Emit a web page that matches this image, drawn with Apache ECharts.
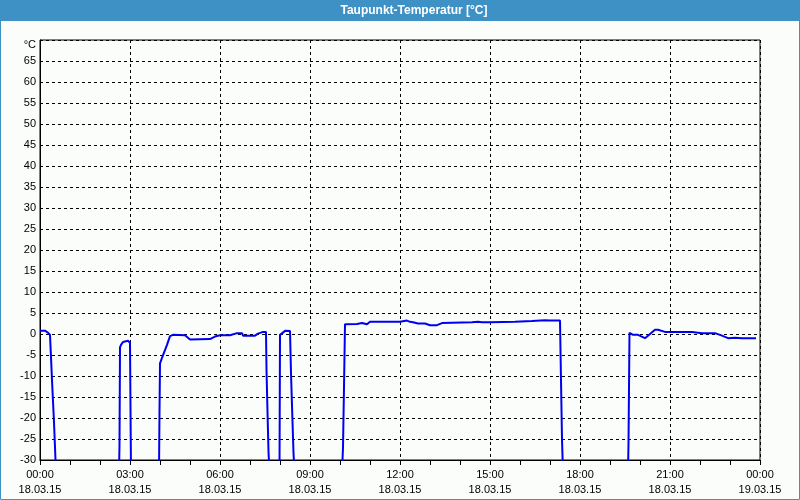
<!DOCTYPE html>
<html>
<head>
<meta charset="utf-8">
<script src="https://cdn.jsdelivr.net/npm/echarts@6/dist/echarts.min.js"></script>
<style>
html,body{margin:0;padding:0;background:#fbfdfb;}
#chart{width:800px;height:500px;}
</style>
</head>
<body>
<div id="chart"></div>
<script>
// Time in minutes since 18.03.15 00:00; null = gap in measurement
var minutes = [
  0, 10, 16, 20, 22, 24, 26, 28, 30, 32, 33,
  158, 159, 160, 162, 166, 170, 176, 180, 182, 183,
  238, 239, 240, 244, 254, 260, 266, 290, 300, 340, 350, 360, 380, 394, 404, 406, 430, 436, 446, 452, 453, 455, 457, 459, 460,
  479, 480, 484, 491, 500, 502, 504.5, 507, 509, 510,
  604, 606, 608, 610, 634, 636, 644, 646, 654, 660, 720, 734, 740, 746, 756, 770, 780, 794, 804, 864, 876, 884, 900, 904, 950, 954, 984, 986, 1010, 1020, 1040, 1042, 1044, 1046, 1047,
  1176, 1177, 1179, 1180, 1186, 1196, 1210, 1230, 1236, 1250, 1304, 1324, 1350, 1364, 1376, 1390, 1404, 1432
];
var dewPoint = [
  0.8, 0.8, 0.3, -0.2, -5.5, -11, -16, -21, -27, -33, null,
  -33, -26.5, -3.2, -2.6, -1.9, -1.6, -1.6, -2.1, -33, null,
  -33, -18.6, -7, -5.7, -2.6, -0.5, -0.2, -0.3, -1.3, -1.2, -0.6, -0.3, -0.3, 0.2, 0.2, -0.4, -0.4, 0.1, 0.5, 0.5, -8.5, -18.5, -28, -33, null,
  -33, -0.2, 0.2, 0.8, 0.7, -9.3, -19, -28.3, -33, null,
  -33, -27, -12.6, 2.3, 2.4, 2.6, 2.6, 2.3, 2.3, 2.9, 2.9, 3.2, 2.9, 2.8, 2.5, 2.5, 2.1, 2.1, 2.6, 2.8, 2.9, 2.8, 2.8, 2.9, 2.9, 3.1, 3.1, 3.3, 3.3, 3.2, 3.2, -11, -25, -33, null,
  -33, -26, 0.3, 0.2, -0.2, -0.2, -1.0, 1.0, 1.0, 0.5, 0.5, 0.2, 0.2, -0.4, -1.0, -0.9, -1.0, -1.0
];
var yTicks = [-30, -25, -20, -15, -10, -5, 0, 5, 10, 15, 20, 25, 30, 35, 40, 45, 50, 55, 60, 65, 70];
var xTickLabels = ['00:00', '03:00', '06:00', '09:00', '12:00', '15:00', '18:00', '21:00', '00:00'];
var dateLabels = ['18.03.15', '18.03.15', '18.03.15', '18.03.15', '18.03.15', '18.03.15', '18.03.15', '18.03.15', '19.03.15'];
var titleText = 'Taupunkt-Temperatur [°C]';

var seriesData = minutes.map(function (m, i) {
  return [m, dewPoint[i] === null ? '-' : dewPoint[i]];
});

var font = '"Liberation Sans", Arial, sans-serif';
var chart = echarts.init(document.getElementById('chart'), null, {renderer: 'canvas'});
chart.setOption({
  backgroundColor: '#fbfdfb',
  animation: false,
  graphic: [
    {type: 'rect', shape: {x: 0, y: 0, width: 800, height: 21}, style: {fill: '#3d91c4'}, z: 10},
    {type: 'rect', shape: {x: 0.5, y: 0.5, width: 799, height: 499}, style: {fill: null, stroke: '#3d91c4', lineWidth: 1}, z: 10},
    {type: 'text', x: 414, y: 11, z: 11, style: {text: titleText, fill: '#ffffff', font: 'bold 12px ' + font, textAlign: 'center', textVerticalAlign: 'middle'}}
  ],
  grid: {left: 40, right: 40, top: 40, bottom: 40, show: true, borderColor: '#000', borderWidth: 1, backgroundColor: 'transparent'},
  xAxis: {
    type: 'value', min: 0, max: 1440, interval: 180,
    axisLine: {show: true, onZero: false, lineStyle: {color: '#000', width: 1}},
    axisTick: {show: true, length: 5, lineStyle: {color: '#000'}},
    minorTick: {show: true, splitNumber: 3, length: 5, lineStyle: {color: '#000'}},
    splitLine: {show: true, lineStyle: {color: '#000', type: [3, 3], width: 1}},
    axisLabel: {
      margin: 7, color: '#000', fontFamily: font, fontSize: 11, lineHeight: 15,
      formatter: function (v) {
        var i = Math.round(v / 180);
        return xTickLabels[i] + '\n' + dateLabels[i];
      }
    }
  },
  yAxis: {
    type: 'value', min: -30, max: 70, interval: 5,
    axisLine: {show: true, onZero: false, lineStyle: {color: '#000', width: 1}},
    axisTick: {show: false},
    splitLine: {show: true, lineStyle: {color: '#000', type: [3, 3], width: 1}},
    axisLabel: {
      margin: 4, color: '#000', fontFamily: font, fontSize: 11,
      formatter: function (v) {
        if (v === 70) return '{u|°C}';
        return yTicks.indexOf(v) >= 0 ? String(v) : '';
      },
      rich: {u: {fontFamily: font, fontSize: 11, color: '#000', padding: [9, 0, 0, 0]}}
    }
  },
  series: [{
    type: 'line',
    data: seriesData,
    showSymbol: false,
    connectNulls: false,
    clip: true,
    lineStyle: {color: '#0000f0', width: 2},
    itemStyle: {color: '#0000f0'}
  }]
});
</script>
</body>
</html>
